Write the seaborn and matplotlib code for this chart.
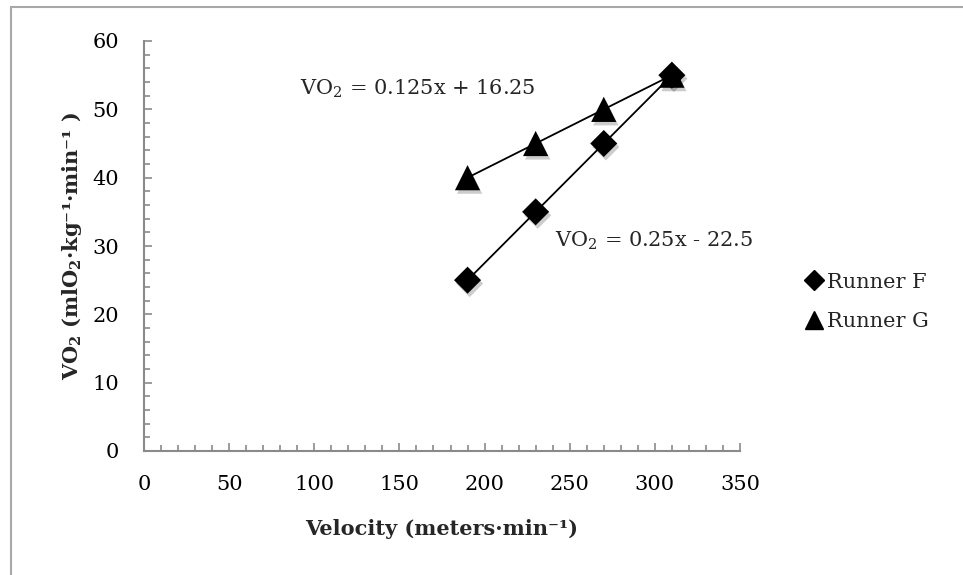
import matplotlib
matplotlib.use("Agg")
import matplotlib.pyplot as plt
import matplotlib.patheffects as pe
from matplotlib.lines import Line2D
from matplotlib.patches import Rectangle
from matplotlib.ticker import MultipleLocator
import numpy as np
import pandas as pd
import seaborn as sns

# ---- data ----
runners = ["Runner F", "Runner G"]
velocity = [190, 230, 270, 310]
vo2_runner_f = [25, 35, 45, 55]
vo2_runner_g = [40, 45, 50, 55]
eq_runner_f = "VO$_2$ = 0.25x - 22.5"
eq_runner_g = "VO$_2$ = 0.125x + 16.25"
x_ticks = [0, 50, 100, 150, 200, 250, 300, 350]
y_ticks = [0, 10, 20, 30, 40, 50, 60]
x_label = "Velocity (meters·min⁻¹)"
y_label = "VO$_\\mathbf{2}$ (mlO$_\\mathbf{2}$·kg⁻¹·min⁻¹ )"

df = pd.DataFrame({
    "velocity": velocity * 2,
    "vo2": vo2_runner_f + vo2_runner_g,
    "runner": [runners[0]] * 4 + [runners[1]] * 4,
})

sns.set_style("white")
plt.rcParams["font.family"] = ["DejaVu Serif", "DejaVu Sans"]
plt.rcParams["mathtext.fontset"] = "dejavuserif"

fig = plt.figure(figsize=(9.63, 5.75), dpi=100)
ax = fig.add_axes([144 / 963, 1 - 451 / 575, (740 - 144) / 963, (451 - 41) / 575])

# trend lines
for r in runners:
    sub = df[df["runner"] == r]
    sns.regplot(data=sub, x="velocity", y="vo2", scatter=False, ci=None,
                truncate=True, color="black", line_kws={"lw": 1.3}, ax=ax)

sns.scatterplot(data=df, x="velocity", y="vo2", style="runner", size="runner",
                markers={"Runner F": "D", "Runner G": "^"},
                sizes={"Runner F": 190, "Runner G": 330},
                color="black", edgecolor="black", linewidth=0,
                legend=False, ax=ax, zorder=3)
for coll in ax.collections:
    coll.set_path_effects([pe.SimplePatchShadow(offset=(1.5, -2.5), shadow_rgbFace="black", alpha=0.2),
                           pe.Normal()])

ax.set_xlim(0, 350)
ax.set_ylim(0, 60)
ax.set_xticks(x_ticks)
ax.set_yticks(y_ticks)
ax.xaxis.set_minor_locator(MultipleLocator(10))
ax.yaxis.set_minor_locator(MultipleLocator(2))
ax.tick_params(which="both", bottom=True, left=True, direction="in", color="#8a8a8a", width=1.2,
               labelsize=15, labelcolor="black")
ax.tick_params(axis="x", which="major", length=6, pad=17)
ax.tick_params(axis="x", which="minor", length=4)
ax.tick_params(axis="y", which="major", length=6, pad=18)
ax.tick_params(axis="y", which="minor", length=4)

for s in ["top", "right"]:
    ax.spines[s].set_visible(False)
for s in ["left", "bottom"]:
    ax.spines[s].set_color("#8a8a8a")
    ax.spines[s].set_linewidth(1.5)

ax.set_xlabel(x_label, fontsize=15, fontweight="bold", labelpad=18)
ax.set_ylabel(y_label, fontsize=15, fontweight="bold", labelpad=6)

ax.text(91.5, 53.0, eq_runner_g, fontsize=15, va="center", ha="left")
ax.text(241.5, 30.7, eq_runner_f, fontsize=15, va="center", ha="left")

handles = [Line2D([], [], marker="D", color="black", ls="", markersize=10),
           Line2D([], [], marker="^", color="black", ls="", markersize=13)]
ax.legend(handles, runners, loc="center left", bbox_to_anchor=(806 / 963, 1 - 302 / 575),
          bbox_transform=fig.transFigure, frameon=False, fontsize=15,
          handlelength=0.8, handletextpad=0.2, labelspacing=1.0,
          borderpad=0, borderaxespad=0)

fig.patches.append(Rectangle((11 / 963, -0.1), 1.2, 1 - 7 / 575 + 0.1,
                             transform=fig.transFigure, fill=False,
                             edgecolor="#a8a8a8", lw=1.5))

fig.savefig("out.png", dpi=100)
